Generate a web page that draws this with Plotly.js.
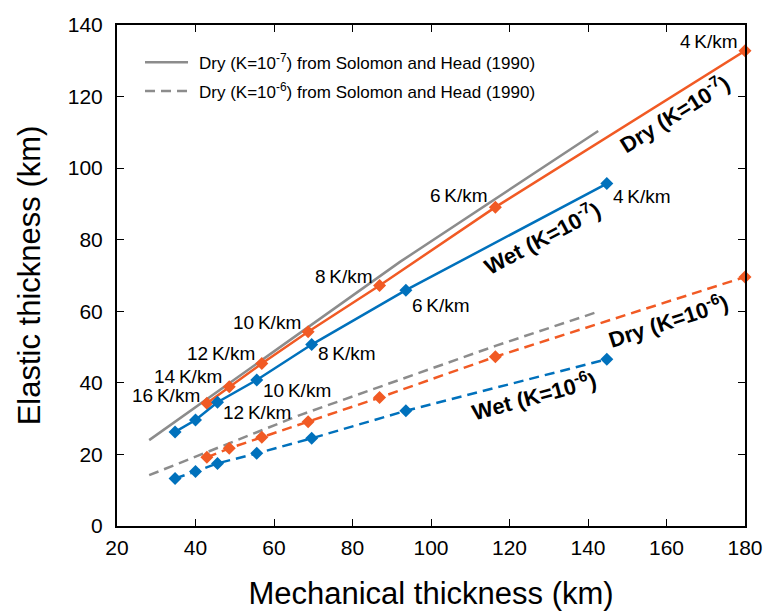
<!DOCTYPE html>
<html>
<head>
<meta charset="utf-8">
<script src="https://cdn.plot.ly/plotly-3.0.1.min.js"></script>
<style>html,body{margin:0;padding:0;background:#fff;}#chart{width:769px;height:612px;}</style>
</head>
<body>
<div id="chart"></div>
<script>
// ---- data ----
const gradients = ["16\u2009K/km", "14\u2009K/km", "12\u2009K/km", "10\u2009K/km", "8\u2009K/km", "6\u2009K/km", "4\u2009K/km"];
const dryMech = [42.9, 48.6, 56.9, 68.7, 86.9, 116.4, 180];
const dryElastic7 = [34.3, 38.9, 45.4, 54.3, 67.2, 89.1, 132.8];
const dryElastic6 = [19.2, 21.7, 24.8, 29.1, 35.9, 47.3, 69.6];
const wetMech = [34.8, 40.0, 45.6, 55.6, 69.6, 93.6, 144.8];
const wetElastic7 = [26.3, 29.6, 34.6, 40.8, 50.7, 65.9, 95.7];
const wetElastic6 = [13.3, 15.2, 17.5, 20.3, 24.5, 32.2, 46.6];
const shMech7 = [28.2, 66.6, 92.1, 142.6];
const shElastic7 = [24.0, 53.8, 73.8, 110.4];
const shMech6 = [28.2, 66.6, 116.6, 142.6];
const shElastic6 = [14.2, 31.0, 50.4, 59.9];
const wetLabelIdx = [2, 3, 4, 5, 6];   // wet labels shown for 12..4 K/km
const xTicks = [20, 40, 60, 80, 100, 120, 140, 160, 180];
const yTicks = [0, 20, 40, 60, 80, 100, 120, 140];

// ---- styles ----
const ORANGE = "#F15A24", BLUE = "#0071BC", GRAY = "#8C8C8C";
const FONT = "Liberation Sans, Arial, Helvetica, sans-serif";
const DASH = "10px,6px";

const traces = [
  {x: shMech7, y: shElastic7, mode: "lines", line: {color: GRAY, width: 2.5}, showlegend: false, hoverinfo: "skip"},
  {x: shMech6, y: shElastic6, mode: "lines", line: {color: GRAY, width: 2.5, dash: DASH}, showlegend: false, hoverinfo: "skip"},
  {x: dryMech, y: dryElastic7, mode: "lines+markers", line: {color: ORANGE, width: 2.5},
   marker: {symbol: "diamond", size: 10, color: ORANGE}, cliponaxis: false, showlegend: false},
  {x: dryMech, y: dryElastic6, mode: "lines+markers", line: {color: ORANGE, width: 2.5, dash: DASH},
   marker: {symbol: "diamond", size: 10, color: ORANGE}, cliponaxis: false, showlegend: false},
  {x: wetMech, y: wetElastic7, mode: "lines+markers", line: {color: BLUE, width: 2.5},
   marker: {symbol: "diamond", size: 10, color: BLUE}, cliponaxis: false, showlegend: false},
  {x: wetMech, y: wetElastic6, mode: "lines+markers", line: {color: BLUE, width: 2.5, dash: DASH},
   marker: {symbol: "diamond", size: 10, color: BLUE}, cliponaxis: false, showlegend: false}
];

const annotations = [];
const labelFont = {family: FONT, size: 19, color: "#000"};
const dryYShift = [8, 10, 10, 9, 9, 12, 9];
gradients.forEach((g, i) => {
  annotations.push({x: dryMech[i], y: dryElastic7[i], xref: "x", yref: "y", text: g, showarrow: false,
    xanchor: "right", yanchor: "middle", xshift: -5, yshift: dryYShift[i], font: labelFont});
});
const wetYShift = {2: -10, 3: -11, 4: -9, 5: -15, 6: -13};
wetLabelIdx.forEach(i => {
  annotations.push({x: wetMech[i], y: wetElastic7[i], xref: "x", yref: "y", text: gradients[i], showarrow: false,
    xanchor: "left", yanchor: "middle", xshift: 4, yshift: wetYShift[i], font: labelFont});
});
const bold = {family: FONT, size: 22, color: "#000", weight: "bold"};
annotations.push({x: 161.9, y: 115.4, text: "<b>Dry (K=10<sup>-7</sup>)</b>", showarrow: false, textangle: -32, font: bold});
annotations.push({x: 128.3, y: 80.7, text: "<b>Wet (K=10<sup>-7</sup>)</b>", showarrow: false, textangle: -28, font: bold});
annotations.push({x: 160.4, y: 57.5, text: "<b>Dry (K=10<sup>-6</sup>)</b>", showarrow: false, textangle: -18, font: bold});
annotations.push({x: 126.2, y: 36.6, text: "<b>Wet (K=10<sup>-6</sup>)</b>", showarrow: false, textangle: -15, font: bold});

// manual legend
const legendText = ["Dry (K=10<sup>-7</sup>) from Solomon and Head (1990)", "Dry (K=10<sup>-6</sup>) from Solomon and Head (1990)"];
const legendY = [0.9256, 0.8683];
const shapes = [];
legendText.forEach((t, i) => {
  shapes.push({type: "line", xref: "paper", yref: "paper", x0: 0.0446, x1: 0.1131, y0: legendY[i], y1: legendY[i],
    line: {color: GRAY, width: 2.5, dash: i === 0 ? "solid" : DASH}});
  annotations.push({xref: "paper", yref: "paper", x: 0.127, y: legendY[i], xanchor: "left", yanchor: "middle",
    text: t, showarrow: false, font: {family: FONT, size: 17, color: "#000"}});
});

const axisCommon = {
  showline: true, linecolor: "#000", linewidth: 2, mirror: "ticks",
  ticks: "inside", ticklen: 7, tickwidth: 1, tickcolor: "#000",
  showgrid: false, zeroline: false, tickfont: {family: FONT, size: 21, color: "#000"}
};

const layout = {
  width: 769, height: 612,
  margin: {l: 117, r: 24, t: 25, b: 86},
  paper_bgcolor: "#fff", plot_bgcolor: "#fff",
  font: {family: FONT, color: "#000"},
  showlegend: false,
  xaxis: Object.assign({}, axisCommon, {
    range: [20, 180], tickvals: xTicks, ticktext: xTicks.map(String), ticklabelstandoff: 2,
    title: {text: "Mechanical thickness (km)", font: {family: FONT, size: 31, color: "#000"}, standoff: 24}
  }),
  yaxis: Object.assign({}, axisCommon, {
    range: [0, 140], tickvals: yTicks, ticktext: yTicks.map(String), ticklabelstandoff: 8,
    title: {text: "Elastic thickness (km)", font: {family: FONT, size: 31, color: "#000"}, standoff: 18}
  }),
  annotations: annotations,
  shapes: shapes
};

Plotly.newPlot("chart", traces, layout, {displayModeBar: false, staticPlot: true});
</script>
</body>
</html>
